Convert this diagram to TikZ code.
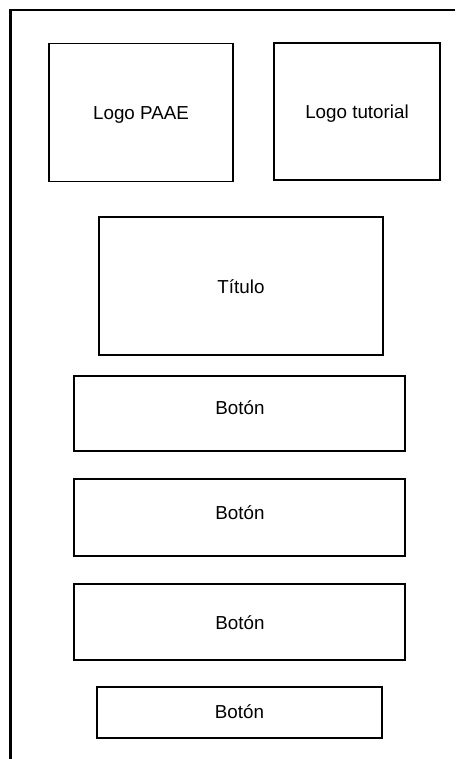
\documentclass[tikz,border=0pt]{standalone}
\usepackage{fontspec}
\setmainfont{Liberation Sans}
\begin{document}
\begin{tikzpicture}[x=1pt,y=-1pt,
  frame/.style={line width=2.4pt,line cap=butt},
  panel/.style={draw,line width=1.3pt,inner sep=0pt,rectangle},
  caption/.style={anchor=base,inner sep=0pt,font=\fontsize{18.8}{20}\selectfont}]
\useasboundingbox (0,0) rectangle (455,759);
% page frame (top and left edges)
\coordinate (ftl) at (10.5,10);
\coordinate (ftr) at (455,10);
\coordinate (fbl) at (10.5,759);
\draw[frame] (ftr) -- (ftl) -- (fbl);
% header logos
\node[panel,minimum width=184,minimum height=138] (paae) at (141,112.5) {};
\node[caption] (tpaae) at (141,119.3) {Logo PAAE};
\node[panel,minimum width=166,minimum height=137] (tut) at (357,111.5) {};
\node[caption] (ttut) at (357,118.3) {Logo tutorial};
% title
\node[panel,minimum width=284,minimum height=138] (tit) at (241,286) {};
\node[caption] (ttit) at (241,293.5) {Título};
% buttons
\node[panel,minimum width=331,minimum height=75] (b1) at (239.5,413.5) {};
\node[caption] (tb1) at (240,414.3) {Botón};
\node[panel,minimum width=331,minimum height=77] (b2) at (239.5,517.5) {};
\node[caption] (tb2) at (240,519.3) {Botón};
\node[panel,minimum width=331,minimum height=76] (b3) at (239.5,622) {};
\node[caption] (tb3) at (240,629) {Botón};
\node[panel,minimum width=285,minimum height=51] (b4) at (239.5,712.5) {};
\node[caption] (tb4) at (239.5,718.7) {Botón};
\end{tikzpicture}
\end{document}
